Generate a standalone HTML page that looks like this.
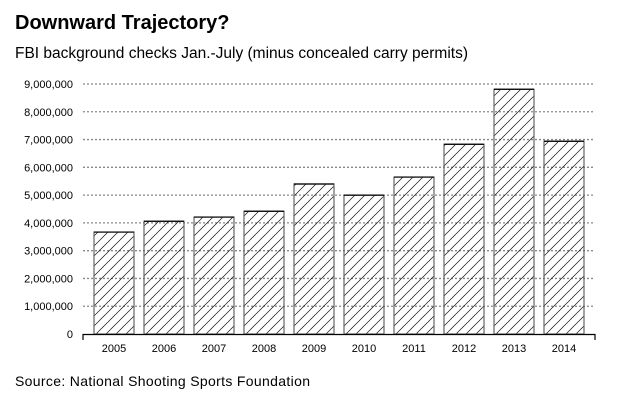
<!DOCTYPE html>
<html><head><meta charset="utf-8"><style>
body{margin:0;background:#fff;width:630px;height:400px;overflow:hidden;font-family:"Liberation Sans",sans-serif}
</style></head><body>
<svg width="630" height="400" xmlns="http://www.w3.org/2000/svg">
<defs><pattern id="hatch" patternUnits="userSpaceOnUse" width="10" height="10">
<path d="M-1,11 L11,-1 M-5,5 L5,-5 M5,15 L15,5" stroke="#111" stroke-width="0.7"/></pattern></defs>
<text x="15" y="29" font-size="20" font-weight="bold" fill="#000">Downward Trajectory?</text>
<text x="15" y="58" font-size="15.5" fill="#000" textLength="453">FBI background checks Jan.-July (minus concealed carry permits)</text>
<text x="15" y="386" font-size="14" fill="#000" textLength="295">Source: National Shooting Sports Foundation</text>
<g id="g"></g>
</svg>
<script>
const categories=["2005","2006","2007","2008","2009","2010","2011","2012","2013","2014"];
const values=[3670000,4060000,4210000,4420000,5400000,5000000,5650000,6830000,8810000,6940000];
const ticks=[0,1000000,2000000,3000000,4000000,5000000,6000000,7000000,8000000,9000000];
const NS="http://www.w3.org/2000/svg",g=document.getElementById('g');
const y=v=>334-v/9000000*250;
const x=i=>94+i*50;
function mk(t,a){const e=document.createElementNS(NS,t);for(const k in a)e.setAttribute(k,a[k]);g.appendChild(e);return e;}
ticks.forEach(t=>{
 if(t>0){const l=mk('line',{x1:83,x2:595,y1:y(t),y2:y(t),stroke:'#888','stroke-width':1.3,'stroke-dasharray':'2,2'});
 
 }
 const tx=mk('text',{x:73,y:y(t)+4,'font-size':11,'text-anchor':'end',fill:'#000'});tx.textContent=t.toLocaleString('en-US');
 
 
});
values.forEach((v,i)=>{
 const r=mk('rect',{x:x(i),y:y(v),width:40,height:334-y(v),fill:'url(#hatch)',stroke:'#666','stroke-width':1.2});
 
 
 const t=mk('line',{x1:x(i),x2:x(i)+40,y1:y(v),y2:y(v),stroke:'#000','stroke-width':1.2});
 
 
 const tx=mk('text',{x:x(i)+20,y:352,'font-size':11,'text-anchor':'middle',fill:'#000'});tx.textContent=categories[i];
 
 
});
const ax=mk('path',{d:'M83,340 L83,334.5 L595,334.5 L595,340',stroke:'#000','stroke-width':1.2,fill:'none'});


</script>
</body></html>
